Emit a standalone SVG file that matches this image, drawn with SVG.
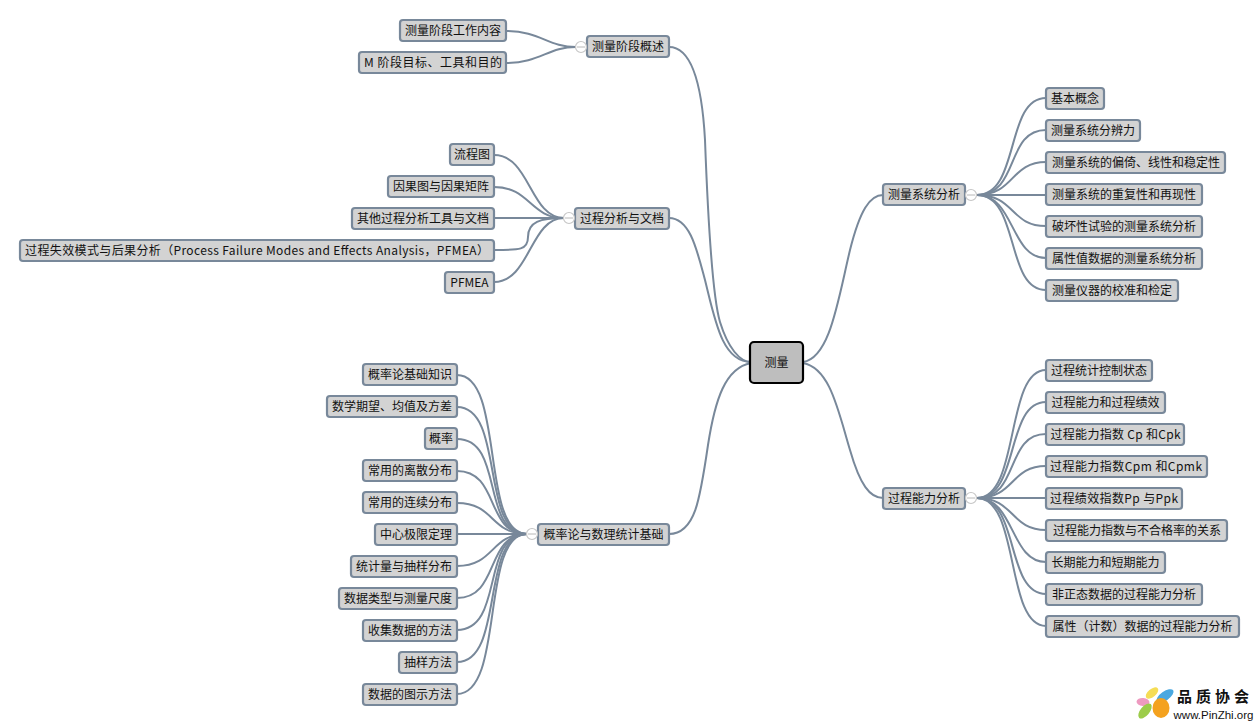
<svg xmlns="http://www.w3.org/2000/svg" width="1260" height="726" viewBox="0 0 1260 726">
<style>
text{font-family:"Noto Sans CJK SC","Noto Sans",sans-serif;font-size:12px;fill:#111;text-anchor:middle;dominant-baseline:central}
.n{fill:#d3d3d3;stroke:#78889a;stroke-width:2.2}
.root{fill:#bebebe;stroke:#000;stroke-width:2.2}
.c{fill:none;stroke:#78889a;stroke-width:2}
.t{fill:#fff;stroke:#c6c6c6;stroke-width:1.2}
.m{fill:none;stroke:#b8b8b8;stroke-width:1}
</style>
<rect width="1260" height="726" fill="#fff"/>
<g id="connectors">
<path class="c" d="M669,47C692,47 702,85 705,140C708,220 712,295 720,322C728,348 740,362 751,362"/>
<path class="c" d="M669,218C690,218 697,250 705,280C715,320 722,362 751,362"/>
<path class="c" d="M751,363C725,368 715,400 708,445C700,500 695,534 669,534"/>
<path class="c" d="M803,362C830,358 838,300 850,250C860,210 870,195 883,195"/>
<path class="c" d="M803,363C830,368 838,410 850,450C860,485 870,498 883,498"/>
<path class="c" d="M506,31C540,31 548,47 576,47"/>
<path class="c" d="M506,63C540,63 548,47 576,47"/>
<path class="c" d="M494,155C530,155 530,218 564,218"/>
<path class="c" d="M494,187C530,187 530,218 564,218"/>
<path class="c" d="M494,218H564"/>
<path class="c" d="M494,250C520,250 528,250 528,237C528,222 540,218 564,218"/>
<path class="c" d="M494,282C530,282 530,218 564,218"/>
<path class="c" d="M457,375C505,375 480,534 527,534"/>
<path class="c" d="M457,407C505,407 480,534 527,534"/>
<path class="c" d="M457,439C505,439 480,534 527,534"/>
<path class="c" d="M457,471C500,471 485,534 527,534"/>
<path class="c" d="M457,503C495,503 490,534 527,534"/>
<path class="c" d="M457,534H527"/>
<path class="c" d="M457,566C495,566 490,534 527,534"/>
<path class="c" d="M457,598C500,598 485,534 527,534"/>
<path class="c" d="M457,630C505,630 480,534 527,534"/>
<path class="c" d="M457,662C505,662 480,534 527,534"/>
<path class="c" d="M457,694C505,694 480,534 527,534"/>
<path class="c" d="M977,195C1020,195 1005,98 1046,98"/>
<path class="c" d="M977,195C1020,195 1005,130 1046,130"/>
<path class="c" d="M977,195C1015,195 1010,162 1046,162"/>
<path class="c" d="M977,195H1046"/>
<path class="c" d="M977,195C1015,195 1010,226 1046,226"/>
<path class="c" d="M977,195C1015,195 1010,258 1046,258"/>
<path class="c" d="M977,195C1020,195 1005,290 1046,290"/>
<path class="c" d="M977,498C1020,498 1005,370 1046,370"/>
<path class="c" d="M977,498C1020,498 1005,402 1046,402"/>
<path class="c" d="M977,498C1020,498 1005,434 1046,434"/>
<path class="c" d="M977,498C1015,498 1010,466 1046,466"/>
<path class="c" d="M977,498H1046"/>
<path class="c" d="M977,498C1015,498 1010,530 1046,530"/>
<path class="c" d="M977,498C1015,498 1010,562 1046,562"/>
<path class="c" d="M977,498C1020,498 1005,594 1046,594"/>
<path class="c" d="M977,498C1020,498 1005,626 1046,626"/>
</g>
<g id="root"><rect class="root" x="750" y="342" width="53" height="41" rx="4"/><text x="776.5" y="361.5">测量</text></g>
<g id="n1"><rect class="n" x="587" y="36" width="82" height="21" rx="3"/><text x="628" y="45.5">测量阶段概述</text><circle class="t" cx="581" cy="47" r="5.5"/><path class="m" d="M577,47h8"/></g>
<g id="n2"><rect class="n" x="575" y="208" width="94" height="21" rx="3"/><text x="622" y="217.5">过程分析与文档</text><circle class="t" cx="569" cy="218" r="5.5"/><path class="m" d="M565,218h8"/></g>
<g id="n3"><rect class="n" x="538" y="524" width="131" height="21" rx="3"/><text x="603.5" y="533.5">概率论与数理统计基础</text><circle class="t" cx="532" cy="534" r="5.5"/><path class="m" d="M528,534h8"/></g>
<g id="n4"><rect class="n" x="883" y="184" width="82" height="21" rx="3"/><text x="924" y="193.5">测量系统分析</text><circle class="t" cx="971" cy="195" r="5.5"/><path class="m" d="M967,195h8"/></g>
<g id="n5"><rect class="n" x="883" y="488" width="82" height="21" rx="3"/><text x="924" y="497.5">过程能力分析</text><circle class="t" cx="971" cy="498" r="5.5"/><path class="m" d="M967,498h8"/></g>
<g id="a1"><rect class="n" x="400" y="20" width="106" height="21" rx="3"/><text x="453" y="29.5">测量阶段工作内容</text></g>
<g id="a2"><rect class="n" x="359" y="52" width="147" height="21" rx="3"/><text x="433" y="61.5" textLength="138">M 阶段目标、工具和目的</text></g>
<g id="b1"><rect class="n" x="450" y="144" width="44" height="21" rx="3"/><text x="472" y="153.5">流程图</text></g>
<g id="b2"><rect class="n" x="388" y="176" width="106" height="21" rx="3"/><text x="441" y="185.5">因果图与因果矩阵</text></g>
<g id="b3"><rect class="n" x="352" y="208" width="142" height="21" rx="3"/><text x="423" y="217.5">其他过程分析工具与文档</text></g>
<g id="b4"><rect class="n" x="20" y="240" width="474" height="21" rx="3"/><text x="257" y="249.5" textLength="464">过程失效模式与后果分析（Process Failure Modes and Effects Analysis，PFMEA）</text></g>
<g id="b5"><rect class="n" x="445" y="272" width="49" height="21" rx="3"/><text x="469.5" y="281.5">PFMEA</text></g>
<g id="c1"><rect class="n" x="363" y="364" width="94" height="21" rx="3"/><text x="410" y="373.5">概率论基础知识</text></g>
<g id="c2"><rect class="n" x="327" y="396" width="130" height="21" rx="3"/><text x="392" y="405.5">数学期望、均值及方差</text></g>
<g id="c3"><rect class="n" x="425" y="428" width="32" height="21" rx="3"/><text x="441" y="437.5">概率</text></g>
<g id="c4"><rect class="n" x="363" y="460" width="94" height="21" rx="3"/><text x="410" y="469.5">常用的离散分布</text></g>
<g id="c5"><rect class="n" x="363" y="492" width="94" height="21" rx="3"/><text x="410" y="501.5">常用的连续分布</text></g>
<g id="c6"><rect class="n" x="375" y="524" width="82" height="21" rx="3"/><text x="416" y="533.5">中心极限定理</text></g>
<g id="c7"><rect class="n" x="351" y="556" width="106" height="21" rx="3"/><text x="404" y="565.5">统计量与抽样分布</text></g>
<g id="c8"><rect class="n" x="339" y="588" width="118" height="21" rx="3"/><text x="398" y="597.5">数据类型与测量尺度</text></g>
<g id="c9"><rect class="n" x="363" y="620" width="94" height="21" rx="3"/><text x="410" y="629.5">收集数据的方法</text></g>
<g id="c10"><rect class="n" x="399" y="652" width="58" height="21" rx="3"/><text x="428" y="661.5">抽样方法</text></g>
<g id="c11"><rect class="n" x="363" y="684" width="94" height="21" rx="3"/><text x="410" y="693.5">数据的图示方法</text></g>
<g id="d1"><rect class="n" x="1046" y="88" width="58" height="21" rx="3"/><text x="1075" y="97.5">基本概念</text></g>
<g id="d2"><rect class="n" x="1046" y="120" width="94" height="21" rx="3"/><text x="1093" y="129.5">测量系统分辨力</text></g>
<g id="d3"><rect class="n" x="1046" y="152" width="179" height="21" rx="3"/><text x="1136" y="161.5">测量系统的偏倚、线性和稳定性</text></g>
<g id="d4"><rect class="n" x="1046" y="184" width="156" height="21" rx="3"/><text x="1124" y="193.5">测量系统的重复性和再现性</text></g>
<g id="d5"><rect class="n" x="1046" y="216" width="156" height="21" rx="3"/><text x="1124" y="225.5">破坏性试验的测量系统分析</text></g>
<g id="d6"><rect class="n" x="1046" y="248" width="156" height="21" rx="3"/><text x="1124" y="257.5">属性值数据的测量系统分析</text></g>
<g id="d7"><rect class="n" x="1046" y="280" width="132" height="21" rx="3"/><text x="1112" y="289.5">测量仪器的校准和检定</text></g>
<g id="e1"><rect class="n" x="1046" y="360" width="106" height="21" rx="3"/><text x="1099" y="369.5">过程统计控制状态</text></g>
<g id="e2"><rect class="n" x="1046" y="392" width="119" height="21" rx="3"/><text x="1105.5" y="401.5">过程能力和过程绩效</text></g>
<g id="e3"><rect class="n" x="1046" y="424" width="138" height="21" rx="3"/><text x="1115.5" y="433.5" textLength="130">过程能力指数 Cp 和Cpk</text></g>
<g id="e4"><rect class="n" x="1046" y="456" width="161" height="21" rx="3"/><text x="1126" y="465.5" textLength="152">过程能力指数Cpm 和Cpmk</text></g>
<g id="e5"><rect class="n" x="1046" y="488" width="136" height="21" rx="3"/><text x="1114" y="497.5" textLength="128">过程绩效指数Pp 与Ppk</text></g>
<g id="e6"><rect class="n" x="1046" y="520" width="181" height="21" rx="3"/><text x="1137" y="529.5">过程能力指数与不合格率的关系</text></g>
<g id="e7"><rect class="n" x="1046" y="552" width="119" height="21" rx="3"/><text x="1105.5" y="561.5">长期能力和短期能力</text></g>
<g id="e8"><rect class="n" x="1046" y="584" width="156" height="21" rx="3"/><text x="1124" y="593.5">非正态数据的过程能力分析</text></g>
<g id="e9"><rect class="n" x="1046" y="616" width="193" height="21" rx="3"/><text x="1142.5" y="625.5">属性（计数）数据的过程能力分析</text></g>
<g id="logo">
<ellipse cx="1143" cy="702" rx="6.5" ry="4" fill="#ee9ac0" transform="rotate(5 1143 702)"/>
<ellipse cx="1145" cy="711" rx="4.5" ry="9" fill="#9ccc4a" transform="rotate(40 1145 711)"/>
<ellipse cx="1152" cy="693" rx="4" ry="7.5" fill="#f5dd55" transform="rotate(50 1152 693)"/>
<ellipse cx="1165" cy="696" rx="4.5" ry="10" fill="#4aa8e0" transform="rotate(55 1165 696)"/>
<ellipse cx="1161" cy="708" rx="8.5" ry="10" fill="#f4a21f"/>
<text x="1213" y="695" style="font-size:15px;font-weight:700" textLength="72">品质协会</text>
<text x="1213.5" y="714.5" style="font-family:'Liberation Sans',sans-serif;font-size:11.5px" textLength="80">www.PinZhi.org</text>
</g>
</svg>
